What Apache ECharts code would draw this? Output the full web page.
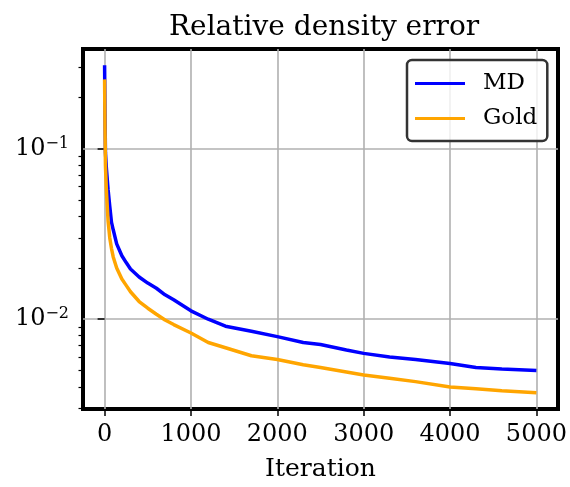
<!DOCTYPE html>
<html>
<head>
<meta charset="utf-8">
<script src="https://cdn.jsdelivr.net/npm/echarts@6/dist/echarts.min.js"></script>
<style>
  html, body { margin: 0; padding: 0; background: #fff; }
  #chart { width: 570px; height: 487px; }
</style>
</head>
<body>
<div id="chart"></div>
<script>
// Relative density error per iteration for the two solvers
const iterations = [0, 5, 10, 20, 40, 60, 80, 100, 140, 200, 250, 300, 400, 500, 600, 700, 800,
  1000, 1200, 1400, 1700, 2000, 2300, 2500, 2800, 3000, 3300, 3600, 4000, 4300, 4600, 5000];
const mdError = [0.31, 0.16, 0.095, 0.078, 0.058, 0.046, 0.037, 0.0335, 0.0277, 0.0236, 0.0215, 0.0197,
  0.0177, 0.0163, 0.0152, 0.0139, 0.0130, 0.0112, 0.0100, 0.0091, 0.0085, 0.0079, 0.0073, 0.0071,
  0.0066, 0.0063, 0.0060, 0.0058, 0.0055, 0.0052, 0.0051, 0.0050];
const goldError = [0.256, 0.13, 0.08, 0.058, 0.038, 0.030, 0.026, 0.0232, 0.0200, 0.0172, 0.0158, 0.0145,
  0.0127, 0.0116, 0.0107, 0.0099, 0.0093, 0.0083, 0.0073, 0.0068, 0.0061, 0.0058, 0.0054, 0.0052,
  0.0049, 0.0047, 0.0045, 0.0043, 0.0040, 0.0039, 0.0038, 0.0037];

// Axis ticks
const xTicks = [0, 1000, 2000, 3000, 4000, 5000];
const yMajorTicks = [0.01, 0.1];
const yMinorTicks = [0.003, 0.004, 0.005, 0.006, 0.007, 0.008, 0.009,
  0.02, 0.03, 0.04, 0.05, 0.06, 0.07, 0.08, 0.09, 0.2, 0.3];

const FONT = 'DejaVu Serif';
const Y_MIN = 0.00297, Y_MAX = 0.386;

const pair = (xs, ys) => xs.map((x, i) => [x, ys[i]]);

const chart = echarts.init(document.getElementById('chart'), null, { renderer: 'canvas' });
chart.setOption({
  backgroundColor: '#fff',
  animation: false,
  title: {
    text: 'Relative density error',
    left: 164, top: 9,
    textStyle: { fontFamily: FONT, fontSize: 28, fontWeight: 'normal', color: '#000' }
  },
  grid: {
    left: 83, right: 12, top: 49, bottom: 76,
    show: true, borderColor: '#000', borderWidth: 4, backgroundColor: 'transparent'
  },
  legend: {
    orient: 'vertical',
    left: 407, top: 60,
    padding: [12, 10, 11, 8],
    icon: 'rect',
    itemWidth: 50, itemHeight: 3, itemGap: 12,
    backgroundColor: 'rgba(255,255,255,0.8)',
    borderColor: '#333', borderWidth: 2.5, borderRadius: 5,
    textStyle: { fontFamily: FONT, fontSize: 23, lineHeight: 22, color: '#000', padding: [0, 0, 0, 13] },
    data: ['MD', 'Gold']
  },
  xAxis: {
    type: 'value', min: -250, max: 5250,
    name: 'Iteration', nameLocation: 'middle', nameGap: 48,
    nameTextStyle: { fontFamily: FONT, fontSize: 25, color: '#000' },
    axisLine: { show: false },
    axisTick: { show: true, customValues: xTicks, length: 7, lineStyle: { color: '#000', width: 1.5 } },
    axisLabel: {
      customValues: xTicks, margin: 14, fontFamily: FONT, fontSize: 24, color: '#000',
      formatter: v => String(v)
    },
    splitLine: { show: true, customValues: xTicks, lineStyle: { color: '#b0b0b0', width: 1.6 } }
  },
  yAxis: [{
    type: 'log', logBase: 10, min: Y_MIN, max: Y_MAX,
    axisLine: { show: false },
    axisTick: { show: true, customValues: yMajorTicks, length: 7, lineStyle: { color: '#000', width: 1.5 } },
    axisLabel: {
      customValues: yMajorTicks, margin: 14, color: '#000',
      formatter: v => '{b|10}{s|−' + Math.round(-Math.log10(v)) + '}',
      rich: {
        b: { fontFamily: FONT, fontSize: 24, color: '#000' },
        s: { fontFamily: FONT, fontSize: 16, color: '#000', padding: [0, 0, 11, 0] }
      }
    },
    splitLine: { show: true, customValues: yMajorTicks, lineStyle: { color: '#b0b0b0', width: 1.6 } }
  }, {
    // minor ticks only
    type: 'log', logBase: 10, min: Y_MIN, max: Y_MAX, position: 'left',
    axisLine: { show: false },
    axisTick: { show: true, customValues: yMinorTicks, length: 4.5, lineStyle: { color: '#000', width: 1.2 } },
    axisLabel: { show: false },
    splitLine: { show: false }
  }],
  series: [{
    name: 'MD', type: 'line', yAxisIndex: 0,
    data: pair(iterations, mdError),
    symbol: 'none', lineStyle: { color: '#0000ff', width: 3.5 }, itemStyle: { color: '#0000ff' }
  }, {
    name: 'Gold', type: 'line', yAxisIndex: 0,
    data: pair(iterations, goldError),
    symbol: 'none', lineStyle: { color: '#ffa500', width: 3.5 }, itemStyle: { color: '#ffa500' }
  }]
});
</script>
</body>
</html>
